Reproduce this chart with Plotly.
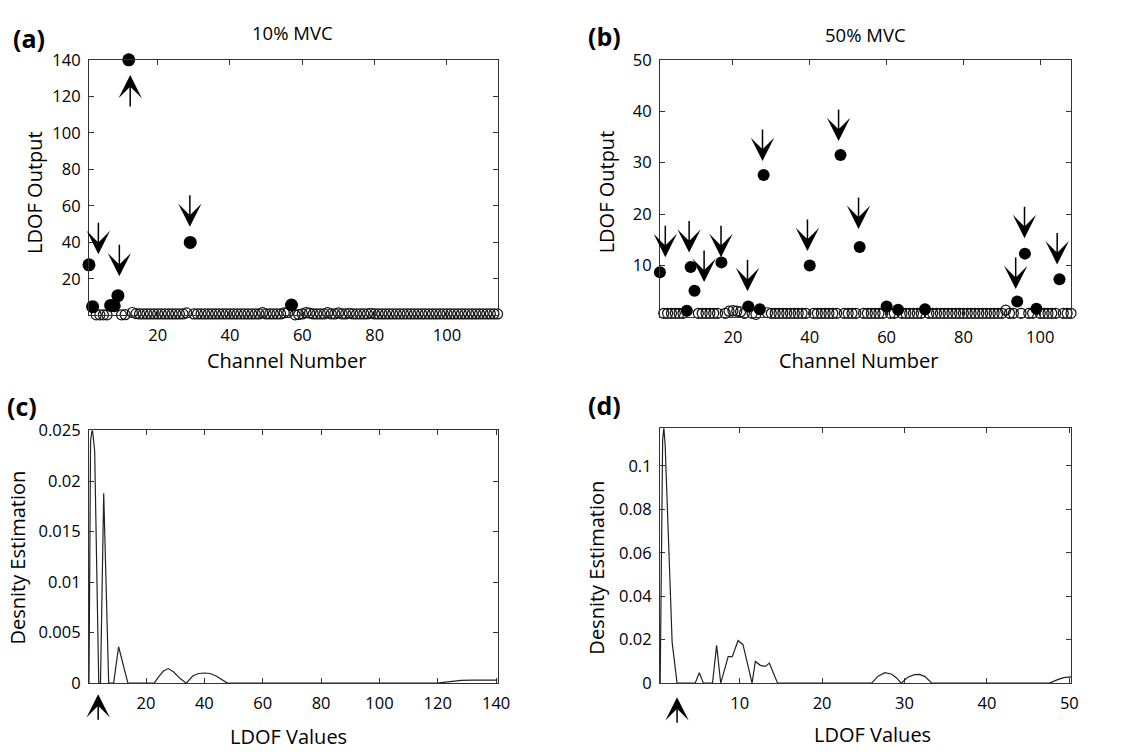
import plotly.graph_objects as go

FONT = "Open Sans"
W, H = 1145, 752

# ---------------- data ----------------
# (a) 10% MVC : LDOF output per channel (channel = index + 1)
ldof_a = [27.7, 4.8, 0.3, 0.3, 0.3, 0.3, 5.5, 5.3, 10.8, 0.3,
          0.4, 140.0, 1.6, 1.0, 0.8, 0.8, 0.8, 0.8, 0.8, 0.8,
          0.8, 0.8, 0.8, 0.8, 0.8, 0.8, 0.8, 1.4, 40.0, 0.8,
          0.8, 0.8, 0.8, 0.8, 0.8, 0.8, 0.8, 0.8, 0.8, 0.8,
          0.8, 0.8, 0.8, 0.8, 0.8, 0.8, 0.8, 0.8, 1.5, 0.8,
          0.8, 0.8, 0.8, 0.8, 1.4, 1.6, 5.7, 0.3, 0.5, 0.8,
          1.5, 1.3, 0.8, 0.8, 0.8, 0.8, 1.5, 0.8, 0.8, 1.4,
          0.8, 0.8, 1.2, 0.8, 0.8, 0.8, 0.8, 0.8, 1.2, 0.8,
          0.8, 0.8, 0.8, 0.8, 0.8, 0.8, 0.8, 0.8, 0.8, 0.8,
          0.8, 0.8, 0.8, 0.8, 0.8, 0.8, 0.8, 0.8, 0.8, 0.8,
          0.8, 0.8, 0.8, 0.8, 0.8, 0.8, 0.8, 0.8, 0.8, 0.8,
          0.8, 0.8, 0.8, 0.8]
outliers_a = [1, 2, 7, 8, 9, 12, 29, 57]

# (b) 50% MVC
ldof_b = [8.7, 0.7, 0.7, 0.7, 0.7, 0.7, 0.7, 1.2, 9.7, 5.1,
          0.7, 0.7, 0.7, 0.7, 0.7, 0.7, 10.6, 0.7, 1.1, 1.2,
          1.1, 1.0, 0.7, 2.0, 0.7, 0.5, 1.5, 27.6, 0.8, 0.7,
          0.7, 0.7, 0.7, 0.7, 0.7, 0.7, 0.7, 0.7, 0.7, 10.0,
          0.7, 0.7, 0.7, 0.7, 0.7, 0.7, 0.7, 31.5, 0.7, 0.7,
          0.7, 0.7, 13.6, 0.7, 0.7, 0.7, 0.7, 0.7, 0.7, 2.0,
          0.7, 0.7, 1.4, 0.7, 0.7, 0.7, 0.7, 0.7, 0.7, 1.5,
          0.7, 0.7, 0.7, 0.7, 0.7, 0.7, 0.7, 0.7, 0.7, 0.7,
          0.7, 0.7, 0.7, 0.7, 0.7, 0.7, 0.7, 0.7, 0.7, 0.7,
          1.3, 0.7, 0.7, 3.0, 0.7, 12.3, 0.7, 0.7, 1.6, 0.7,
          0.7, 0.7, 0.7, 0.7, 7.3, 0.7, 0.7, 0.7]
outliers_b = [1, 8, 9, 10, 17, 24, 27, 28, 40, 48, 53, 60, 63, 70, 94, 96, 99, 105]

# arrow markers: (channel, value at arrow tip)
arrows_a_down = [(3.6, 33.5), (9.4, 21.4), (28.9, 48.5)]
arrows_a_up = [(12.4, 131.7)]
arrows_b_down = [(2.4, 11.6), (8.6, 12.5), (12.5, 6.8), (16.9, 11.6), (23.8, 5.0),
                 (27.7, 30.3), (39.4, 12.8), (47.5, 34.2), (52.7, 17.1),
                 (93.6, 5.4), (95.9, 15.3), (104.4, 10.2)]

# (c) density estimate, 10% MVC
dens_c_x = [0.45, 1.0, 1.6, 2.4, 3.8, 4.4, 5.5, 7.2, 8.9, 10.6, 13.8,
            22.8, 24.5, 26.0, 27.6, 29.5, 31.5, 33.8, 36.0, 38.0, 40.0,
            42.0, 44.0, 46.0, 47.9, 119.7, 124.0, 128.0, 132.0, 140.5]
dens_c_y = [0.0, 0.024, 0.0252, 0.023, 0.0, 0.0, 0.0188, 0.0, 0.0, 0.0036, 0.0,
            0.0, 0.0007, 0.0012, 0.00144, 0.0011, 0.0005, 0.0, 0.0007, 0.00095, 0.001,
            0.00095, 0.0007, 0.0003, 0.0, 0.0, 0.00015, 0.00028, 0.0003, 0.0003]
threshold_c = 3.6

# (d) density estimate, 50% MVC
dens_d_x = [0.35, 0.65, 0.8, 0.95, 1.8, 2.4, 4.6, 5.1, 5.6, 6.7, 7.2, 7.7,
            8.6, 9.1, 9.8, 10.4, 11.5, 11.9, 12.5, 13.1, 13.6, 14.6,
            26.0, 26.8, 27.6, 28.4, 29.0, 29.6, 30.4, 31.2, 31.8, 32.5, 33.3,
            47.6, 48.5, 49.3, 50.2]
dens_d_y = [0.0, 0.112, 0.1174, 0.11, 0.0189, 0.0, 0.0, 0.0048, 0.0, 0.0, 0.0174, 0.0,
            0.0122, 0.0122, 0.0196, 0.0177, 0.0, 0.010, 0.0082, 0.0077, 0.0092, 0.0,
            0.0, 0.0032, 0.0048, 0.0042, 0.0025, 0.0, 0.0027, 0.0039, 0.004, 0.003, 0.0,
            0.0, 0.0015, 0.0025, 0.0029]
threshold_d = 2.4


def split(values, outliers):
    ch = list(range(1, len(values) + 1))
    normal = [(c, v) for c, v in zip(ch, values) if c not in outliers]
    out = [(c, v) for c, v in zip(ch, values) if c in outliers]
    return normal, out


fig = go.Figure()

na, oa = split(ldof_a, outliers_a)
nb, ob = split(ldof_b, outliers_b)

open_style = dict(symbol="circle-open", size=10, color="#111", line=dict(width=1.2, color="#111"))

fig.add_trace(go.Scatter(x=[c for c, _ in na], y=[v for _, v in na], mode="markers",
                         marker=open_style, xaxis="x", yaxis="y", cliponaxis=False))
fig.add_trace(go.Scatter(x=[c for c, _ in oa], y=[v for _, v in oa], mode="markers",
                         marker=dict(symbol="circle", size=13, color="black"),
                         xaxis="x", yaxis="y", cliponaxis=False))
fig.add_trace(go.Scatter(x=[c for c, _ in nb], y=[v for _, v in nb], mode="markers",
                         marker=open_style, xaxis="x2", yaxis="y2", cliponaxis=False))
fig.add_trace(go.Scatter(x=[c for c, _ in ob], y=[v for _, v in ob], mode="markers",
                         marker=dict(symbol="circle", size=12, color="black"),
                         xaxis="x2", yaxis="y2", cliponaxis=False))
fig.add_trace(go.Scatter(x=dens_c_x, y=dens_c_y, mode="lines",
                         line=dict(color="#222", width=1.2), xaxis="x3", yaxis="y3"))
fig.add_trace(go.Scatter(x=dens_d_x, y=dens_d_y, mode="lines",
                         line=dict(color="#222", width=1.2), xaxis="x4", yaxis="y4"))


def px_x(px):
    return px / W


def px_y(py):
    return 1 - py / H


axis_common = dict(showline=True, linecolor="#333", linewidth=1, mirror="ticks",
                   ticks="inside", ticklen=5, tickcolor="#333", tickwidth=1,
                   showgrid=False, zeroline=False,
                   tickfont=dict(family=FONT, size=16.5, color="black"))

xa_dom = [px_x(90), px_x(503.3)]
xb_dom = [px_x(667.5), px_x(1083.3)]

fig.update_layout(
    width=W, height=H, margin=dict(l=0, r=0, t=0, b=0),
    paper_bgcolor="white", plot_bgcolor="white", showlegend=False,
    font=dict(family=FONT, color="black"),
    xaxis=dict(axis_common, domain=xa_dom, range=[1, 114], tickvals=[20, 40, 60, 80, 100],
               anchor="y", ticklabelstandoff=5),
    yaxis=dict(axis_common, domain=[px_y(313), px_y(49.3)], range=[0, 140],
               tickvals=[20, 40, 60, 80, 100, 120, 140], anchor="x", ticklabelstandoff=4),
    xaxis2=dict(axis_common, domain=xb_dom, range=[1, 108], tickvals=[20, 40, 60, 80, 100],
                anchor="y2", ticklabelstandoff=5),
    yaxis2=dict(axis_common, domain=[px_y(314.5), px_y(49.3)], range=[0, 50],
                tickvals=[10, 20, 30, 40, 50], anchor="x2", ticklabelstandoff=4),
    xaxis3=dict(axis_common, domain=xa_dom, range=[0.45, 140.5],
                tickvals=[20, 40, 60, 80, 100, 120, 140], anchor="y3", ticklabelstandoff=5),
    yaxis3=dict(axis_common, domain=[px_y(692.3), px_y(431.7)], range=[0, 0.025],
                tickvals=[0, 0.005, 0.01, 0.015, 0.02, 0.025],
                ticktext=["0", "0.005", "0.01", "0.015", "0.02", "0.025"],
                anchor="x3", ticklabelstandoff=4),
    xaxis4=dict(axis_common, domain=xb_dom, range=[0.32, 50.2],
                tickvals=[10, 20, 30, 40, 50], anchor="y4", ticklabelstandoff=5),
    yaxis4=dict(axis_common, domain=[px_y(692.3), px_y(429.3)], range=[0, 0.1174],
                tickvals=[0, 0.02, 0.04, 0.06, 0.08, 0.1],
                ticktext=["0", "0.02", "0.04", "0.06", "0.08", "0.1"],
                anchor="x4", ticklabelstandoff=4),
)

ann = []


def text(t, x, y, size, bold=False, angle=0):
    ann.append(dict(text=f"<b>{t}</b>" if bold else t, x=px_x(x), y=px_y(y),
                    xref="paper", yref="paper", showarrow=False, textangle=angle,
                    xanchor="center", yanchor="middle",
                    font=dict(family=FONT, size=size, color="black")))


# panel labels
text("(a)", 29, 27, 25, bold=True)
text("(b)", 611, 25, 25, bold=True)
text("(c)", 22, 406, 25, bold=True)
text("(d)", 611, 405, 25, bold=True)
# titles
text("10% MVC", 296, 21, 18.5)
text("50% MVC", 875, 23, 18.5)
# axis titles
text("Channel Number", 290, 359, 20)
text("Channel Number", 868, 359, 20)
text("LDOF Output", 35, 186, 20, angle=-90)
text("LDOF Output", 613, 186, 20, angle=-90)
text("Desnity Estimation", 18, 563, 20, angle=-90)
text("Desnity Estimation", 603, 573, 20, angle=-90)
text("LDOF Values", 292, 747, 20)
text("LDOF Values", 883, 745, 20)

arrow_style = dict(showarrow=True, arrowhead=3, arrowsize=2.6, arrowwidth=1.5,
                   arrowcolor="black", text="", ax=0, standoff=0)

for cx, cy in arrows_a_down:
    ann.append(dict(arrow_style, x=cx, y=cy, xref="x", yref="y", ay=-33))
for cx, cy in arrows_a_up:
    ann.append(dict(arrow_style, x=cx, y=cy, xref="x", yref="y", ay=33))
for cx, cy in arrows_b_down:
    ann.append(dict(arrow_style, x=cx, y=cy, xref="x2", yref="y2", ay=-33))

ann.append(dict(arrow_style, x=threshold_c, y=0, xref="x3", yref="y3 domain",
                yshift=-11, ay=27))
ann.append(dict(arrow_style, x=threshold_d, y=0, xref="x4", yref="y4 domain",
                yshift=-14, ay=27))

fig.update_layout(annotations=ann)

fig.write_html("out.html", config={"displayModeBar": False},
               post_script="document.body.style.margin='0px';")
